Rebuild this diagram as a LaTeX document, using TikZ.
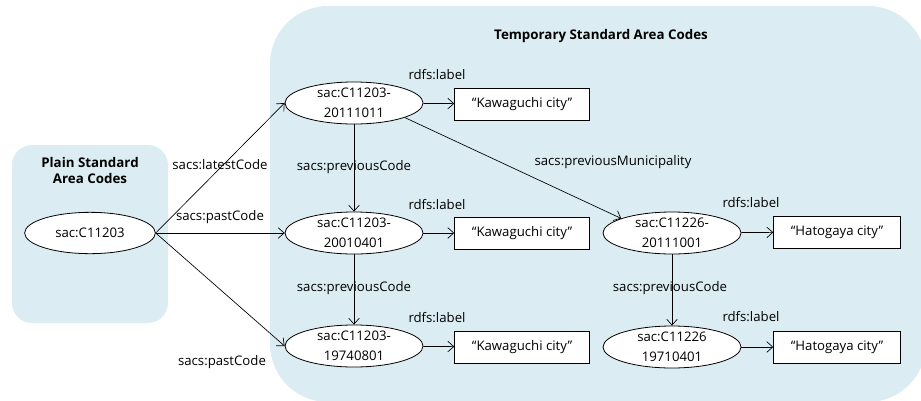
\documentclass[tikz,border=0pt]{standalone}
\usepackage{fontspec}
\setmainfont{Open Sans}
\usetikzlibrary{shapes.geometric,arrows.meta}
\definecolor{panelblue}{RGB}{219,237,243}

\begin{document}
\begin{tikzpicture}[x=0.75pt,y=-0.75pt,
    font=\fontsize{9.9}{15}\selectfont,
    code/.style={ellipse, draw, fill=white, line width=0.6pt, minimum width=103.5pt,
      minimum height=30pt, inner sep=0pt, align=center},
    lit/.style={rectangle, draw, fill=white, line width=0.6pt, minimum height=24pt,
      minimum width=#1, inner xsep=4pt},
    lit/.default=101pt,
    lbl/.style={inner sep=0pt},
    head/.style={font=\fontsize{10}{12}\selectfont\bfseries, align=center},
    rel/.style={-{Straight Barb[length=4.5pt,width=8pt]}, line width=0.5pt}]
  \useasboundingbox (0,0) rectangle (921,400);
  % the two groups
  \begin{scope}
    \clip (0,0) rectangle (921,400);
    \fill[panelblue, rounded corners=43.5pt] (270,6) rectangle (926,402);
  \end{scope}
  \fill[panelblue, rounded corners=15pt] (12,145) rectangle (168,323);
  \node[head] (plain) at (90,170) {Plain Standard\\Area Codes};
  \node[head] (temp) at (601,36) {Temporary Standard Area Codes};

  % codes
  \node[code, minimum width=98pt, minimum height=31pt] (c) at (90,233) {sac:C11203};
  \node[code] (e1) at (354,103) {sac:C11203-\\20111011};
  \node[code] (e2) at (354,233) {sac:C11203-\\20010401};
  \node[code] (e3) at (354,346) {sac:C11203-\\19740801};
  \node[code] (e4) at (672,233) {sac:C11226-\\20111001};
  \node[code] (e5) at (672,347) {sac:C11226\\19710401};

  % labels
  \node[lit] (b1) at (522,104) {“Kawaguchi city”};
  \node[lit] (b2) at (522,233) {“Kawaguchi city”};
  \node[lit] (b3) at (522,347) {“Kawaguchi city”};
  \node[lit=95pt] (b4) at (837,232) {“Hatogaya city”};
  \node[lit=95pt] (b5) at (837,347) {“Hatogaya city”};

  % links
  \draw[rel] (c.east) -- (e1.west);
  \draw[rel] (c.east) -- (e2.west);
  \draw[rel] (c.east) -- (e3.west);
  \draw[rel] (e1.south) -- (e2.north);
  \draw[rel] (e2.south) -- (e3.north);
  \draw[rel] (e4.south) -- (e5.north);
  \draw[rel] (e1.-16) -- (e4.164);
  \draw[rel] (e1) -- (b1);
  \draw[rel] (e2) -- (b2);
  \draw[rel] (e3) -- (b3);
  \draw[rel] (e4) -- (b4);
  \draw[rel] (e5) -- (b5);

  % link names
  \node[lbl] (latest) at (220,165) {sacs:latestCode};
  \node[lbl] (past1) at (220,217) {sacs:pastCode};
  \node[lbl] (past2) at (222,362) {sacs:pastCode};
  \node[lbl] (prev1) at (354,167) {sacs:previousCode};
  \node[lbl] (prev2) at (354,288) {sacs:previousCode};
  \node[lbl] (prev3) at (670,288) {sacs:previousCode};
  \node[lbl] (muni) at (613,162) {sacs:previousMunicipality};
  \node[lbl] (r1) at (437,75) {rdfs:label};
  \node[lbl] (r2) at (437,205) {rdfs:label};
  \node[lbl] (r3) at (437,318) {rdfs:label};
  \node[lbl] (r4) at (751,203) {rdfs:label};
  \node[lbl] (r5) at (751,317) {rdfs:label};
\end{tikzpicture}
\end{document}
